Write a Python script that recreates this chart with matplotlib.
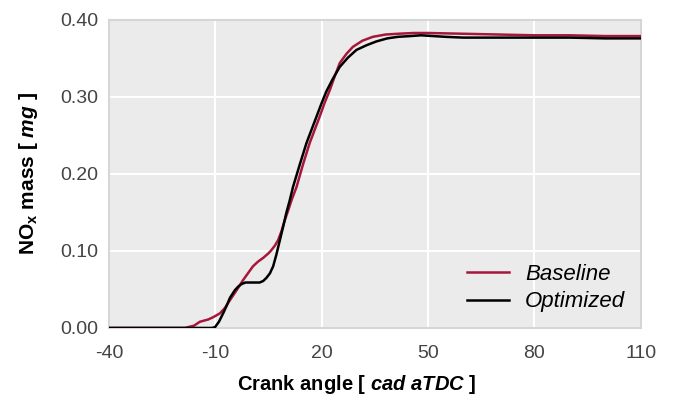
import numpy as np
import matplotlib
matplotlib.use('Agg')
import matplotlib.pyplot as plt

plt.rcParams['font.family'] = ['Liberation Sans', 'DejaVu Sans']
plt.rcParams['mathtext.fontset'] = 'custom'
plt.rcParams['mathtext.rm'] = 'Liberation Sans:bold'
plt.rcParams['mathtext.it'] = 'Liberation Sans:bold:italic'
plt.rcParams['mathtext.bf'] = 'Liberation Sans:bold'
plt.rcParams['axes.unicode_minus'] = False

# crank angle [cad aTDC] and NOx mass [mg]
base_x = [-40, -20, -18.6, -16, -14.4, -12, -10.6, -8.7, -7.3, -5.9, -4, -2.2, -0.8, 0.6,
          2, 3.5, 5, 5.8, 6.8, 7.7, 8.6, 9.6, 10.5, 11.5, 12.9, 14.7, 16.6, 18, 19.4, 20.8,
          22.3, 23.7, 25.1, 27, 28.8, 31.5, 34.4, 38, 41.5, 46, 50, 60, 70, 80, 90, 100, 110]
base_y = [0.0, 0.0, 0.0, 0.003, 0.008, 0.011, 0.014, 0.019, 0.026, 0.036, 0.049, 0.062, 0.071, 0.080,
          0.086, 0.091, 0.097, 0.101, 0.107, 0.114, 0.125, 0.140, 0.152, 0.166, 0.183, 0.212, 0.240, 0.257, 0.274, 0.292,
          0.309, 0.327, 0.344, 0.356, 0.365, 0.373, 0.378, 0.381, 0.382, 0.383, 0.383, 0.382, 0.381, 0.380, 0.380, 0.379, 0.379]

opt_x = [-40, -14, -11, -10.1, -9, -7.8, -6.8, -5.9, -4.5, -3.5, -2.6, -1.5, -0.3, 1, 2.5,
         3.5, 4.4, 5.4, 6.3, 7.2, 8.2, 9.1, 10, 11, 11.9, 13.8, 15.7, 17.1, 18.5, 19.9,
         21.3, 23.2, 25.1, 27.4, 29.8, 32.6, 35.4, 38.5, 41.5, 45, 48, 55, 60, 70, 80, 90, 100, 110]
opt_y = [0.0, 0.0, 0.0, 0.001, 0.008, 0.019, 0.029, 0.039, 0.049, 0.054, 0.057, 0.059, 0.059, 0.059, 0.059,
         0.061, 0.065, 0.071, 0.080, 0.095, 0.114, 0.131, 0.149, 0.166, 0.183, 0.212, 0.240, 0.257, 0.274, 0.291,
         0.307, 0.324, 0.339, 0.351, 0.361, 0.367, 0.372, 0.376, 0.378, 0.379, 0.380, 0.378, 0.377, 0.377, 0.377, 0.377, 0.376, 0.376]

fig = plt.figure(figsize=(6.73, 3.98), dpi=100)
ax = fig.add_axes([0.162, 0.176, 0.790, 0.774])
ax.set_facecolor('#ebebeb')

ax.plot(base_x, base_y, color='#a6173a', lw=1.8, label='Baseline', zorder=3)
ax.plot(opt_x, opt_y, color='black', lw=1.8, label='Optimized', zorder=3)

ax.set_xlim(-40, 110)
ax.set_ylim(0, 0.40)
ax.set_xticks(np.arange(-40, 111, 30))
ax.set_yticks(np.arange(0, 0.41, 0.1))
ax.set_yticklabels(['%.2f' % v for v in np.arange(0, 0.41, 0.1)])
ax.grid(True, color='white', lw=1.5)
ax.set_axisbelow(True)
ax.tick_params(length=0, labelsize=14, labelcolor='#444444')
ax.tick_params(axis='x', pad=12)
ax.tick_params(axis='y', pad=8)
for s in ax.spines.values():
    s.set_color('#d6d6d6')
    s.set_linewidth(1.5)

ax.set_xlabel(r'Crank angle [ $cad\ aTDC$ ]', fontsize=14.5, fontweight='bold', labelpad=8)
ax.xaxis.label.set_x(0.465)
ax.set_ylabel(r'NO$_\mathrm{x}$ mass [ $mg$ ]', fontsize=15, fontweight='bold', labelpad=14)

leg = ax.legend(loc='lower right', frameon=False, prop={'style': 'italic', 'size': 16},
                handlelength=1.9, handletextpad=0.7, borderaxespad=0.3, labelspacing=0.3)

fig.savefig('out.png', dpi=100)
